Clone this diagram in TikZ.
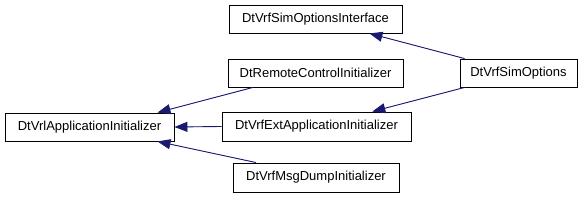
\documentclass[tikz,border=0pt]{standalone}
\usepackage{fontspec}
\setmainfont{Liberation Sans}
\usetikzlibrary{arrows.meta}

\definecolor{edgeblue}{HTML}{191970}

\begin{document}
\begin{tikzpicture}[
  x=1pt, y=-1pt,
  font=\fontsize{13}{15}\selectfont,
  cls/.style={draw=black, fill=white, line width=0.9pt, inner sep=0pt, minimum height=28pt},
  inh/.style={{Triangle[length=13pt, width=10pt]}-, draw=edgeblue, fill=edgeblue, line width=0.9pt},
]
\useasboundingbox (0,0) rectangle (587,200);

% --- base class ---
\node[cls, minimum width=169pt] (appinit) at (89.5,127) {DtVrlApplicationInitializer};

% --- middle column ---
\node[cls, minimum width=173pt] (optif) at (315.5,19) {DtVrfSimOptionsInterface};
\node[cls, minimum width=175pt] (remote) at (315.5,73) {DtRemoteControlInitializer};
\node[cls, minimum width=189pt, minimum height=29pt] (extinit) at (316.5,126.5) {DtVrfExtApplicationInitializer};
\node[cls, minimum width=166pt, minimum height=29pt] (msgdump) at (316,177.5) {DtVrfMsgDumpInitializer};

% --- derived class ---
\node[cls, minimum width=117pt] (simopt) at (518.5,73) {DtVrfSimOptions};

% --- inheritance edges ---
\draw[inh] (appinit.12) -- (remote.193);
\draw[inh] (appinit.east) -- (extinit.west);
\draw[inh] (appinit.348) -- (msgdump.166);
\draw[inh] (optif.345) -- (simopt.165);
\draw[inh] (extinit.15) -- (simopt.195);

\end{tikzpicture}
\end{document}
